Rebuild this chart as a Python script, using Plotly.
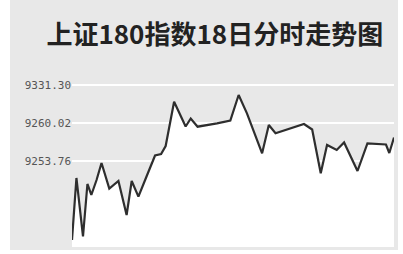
import plotly.graph_objects as go

# Minutes since open (trading session 0-240)
minutes = [0, 3.3, 8.2, 11.5, 14.4, 18.3, 22.0, 27.8, 34.6, 40.7, 44.5, 49.5,
           55.7, 61.9, 66.4, 69.8, 76.1, 84.7, 88.5, 93.6, 108.1, 118.0, 124.2,
           130.4, 141.7, 146.7, 151.7, 172.9, 179.0, 185.4, 190.1, 197.3, 202.8,
           212.8, 220.2, 234.0, 236.5, 240]
index_values = [9040.55, 9156.85, 9047.12, 9145.60, 9124.96, 9153.10, 9184.99,
                9137.16, 9151.22, 9087.45, 9151.22, 9121.77, 9160.60, 9199.06,
                9201.87, 9216.88, 9299.97, 9253.45, 9268.46, 9253.08, 9259.46,
                9264.71, 9312.54, 9278.22, 9203.18, 9256.27, 9240.70, 9258.14,
                9247.83, 9165.67, 9218.75, 9209.37, 9223.44, 9169.98, 9221.94,
                9219.69, 9203.75, 9232.82]

tick_vals = [9331.30, 9260.02, 9188.74]
tick_labels = ["9331.30", "9260.02", "9253.76"]

title_text = "上证180指数18日分时走势图"

y_range = [9027.4, 9350.06]

fig = go.Figure()
# invisible baseline at the bottom of the axis, so the area under the line can be filled
fig.add_trace(go.Scatter(
    x=[minutes[0], minutes[-1]], y=[y_range[0], y_range[0]], mode="lines",
    line=dict(width=0, color="rgba(0,0,0,0)"), hoverinfo="skip", showlegend=False,
))
fig.add_trace(go.Scatter(
    x=minutes, y=index_values, mode="lines",
    line=dict(color="#2e2e2e", width=2.2),
    fill="tonexty", fillcolor="#ffffff",
    hoverinfo="skip", showlegend=False,
))

fig.update_layout(
    width=403, height=254,
    margin=dict(l=72, r=9, t=75, b=7),
    paper_bgcolor="#ffffff",
    plot_bgcolor="rgba(0,0,0,0)",
    title=dict(text="<b>" + title_text + "</b>", x=0.533, xanchor="center",
               y=0.862, yanchor="middle",
               font=dict(family="Noto Sans CJK SC", size=26, color="#222222")),
    xaxis=dict(range=[0, 240], visible=False, showgrid=False, zeroline=False),
    yaxis=dict(range=y_range, tickvals=tick_vals, ticktext=tick_labels,
               showgrid=True, gridcolor="#ffffff", gridwidth=1.5,
               zeroline=False, showline=False, ticks="",
               tickfont=dict(family="DejaVu Sans Mono", size=11, color="#555555")),
    shapes=[dict(type="rect", xref="paper", yref="paper",
                 x0=-0.1925, x1=1.0124, y0=-0.0174, y1=1.436,
                 fillcolor="#e8e8e8", line=dict(width=0), layer="below")],
)

fig.write_html("out.html",
               config={"displayModeBar": False},
               post_script="document.body.style.margin='0';document.body.style.overflow='hidden';")
